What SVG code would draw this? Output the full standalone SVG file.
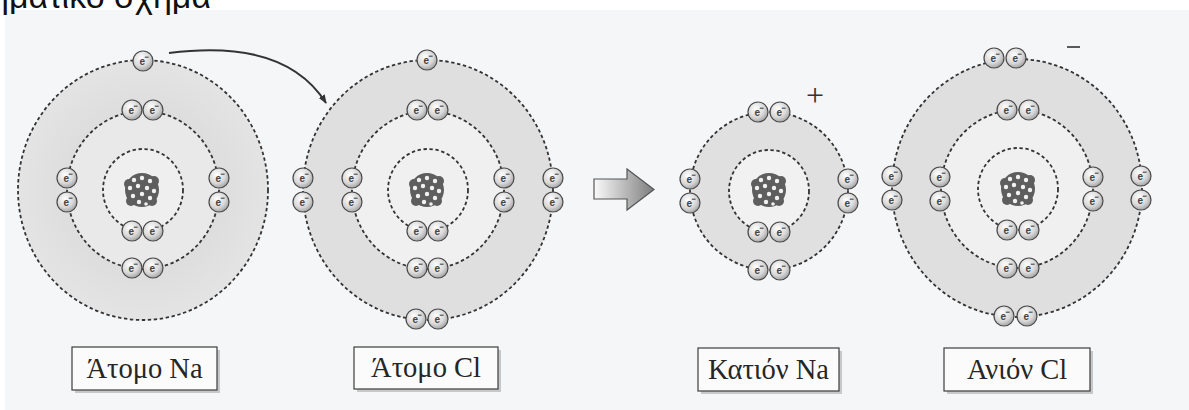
<svg xmlns="http://www.w3.org/2000/svg" width="1189" height="410" viewBox="0 0 1189 410">
  <defs>
    <style>
      .shell { fill: none; stroke: #333333; stroke-width: 1.8; stroke-dasharray: 3.4 2.6; }
      .label-box { fill: #fbfbfb; stroke: #3c3c3c; stroke-width: 1.2; }
      .label-shadow { fill: #9a9a9a; opacity: 0.5; }
      .label { font-family: "Liberation Serif", "DejaVu Serif", serif; font-size: 28.5px; fill: #262626; text-anchor: middle; }
      .charge { font-family: "Liberation Serif", "DejaVu Serif", serif; font-size: 32px; fill: #333; text-anchor: middle; }
      .etext { font-family: "Liberation Sans", "DejaVu Sans", sans-serif; font-size: 10px; fill: #444; font-weight: bold; }
      .title { font-family: "Liberation Sans", "DejaVu Sans", sans-serif; font-size: 34px; fill: #111; }
    </style>
    <radialGradient id="eGrad" cx="0.4" cy="0.35" r="0.7">
      <stop offset="0" stop-color="#ffffff"/>
      <stop offset="0.6" stop-color="#d8d8d8"/>
      <stop offset="1" stop-color="#9c9c9c"/>
    </radialGradient>
    <linearGradient id="blockGrad" x1="0" y1="0" x2="1" y2="0">
      <stop offset="0" stop-color="#fafafa"/>
      <stop offset="1" stop-color="#7d7d7d"/>
    </linearGradient>
    <radialGradient id="bandGrad" cx="0.5" cy="0.5" r="0.5">
      <stop offset="0.6" stop-color="#dddddd"/>
      <stop offset="1" stop-color="#e4e4e4"/>
    </radialGradient>
    <!-- electron: shaded bead with e⁻ -->
    <g id="electron">
      <circle r="10" fill="url(#eGrad)" stroke="#4a4a4a" stroke-width="1.2"/>
      <text class="etext" x="-3.6" y="3.8">e</text>
      <line x1="1.8" y1="-3.8" x2="5.6" y2="-3.8" stroke="#444" stroke-width="1.1"/>
    </g>
    <!-- nucleus: clustered particles -->
    <g id="nucleus">
      <circle r="17" fill="#5e5e5e"/>
      <circle cx="-13" cy="-6" r="5" fill="#5e5e5e"/>
      <circle cx="12" cy="-9" r="5" fill="#5e5e5e"/>
      <circle cx="10" cy="11" r="5" fill="#5e5e5e"/>
      <circle cx="-11" cy="11" r="5" fill="#5e5e5e"/>
      <g fill="#f2f2f2">
        <circle cx="-8" cy="-10" r="2.2"/>
        <circle cx="0" cy="-12" r="2.2"/>
        <circle cx="8" cy="-9" r="2.2"/>
        <circle cx="-12" cy="-2" r="2.2"/>
        <circle cx="-4" cy="-4" r="2.2"/>
        <circle cx="5" cy="-2" r="2.2"/>
        <circle cx="12" cy="1" r="2.2"/>
        <circle cx="-9" cy="6" r="2.2"/>
        <circle cx="0" cy="4" r="2.2"/>
        <circle cx="8" cy="8" r="2.2"/>
        <circle cx="-3" cy="12" r="2.2"/>
        <circle cx="4" cy="14" r="1.8"/>
      </g>
    </g>
    <marker id="arrowHead" markerWidth="10" markerHeight="10" refX="8" refY="5" orient="auto" markerUnits="userSpaceOnUse">
      <path d="M0,1.5 L9,5 L0,8.5 Z" fill="#333"/>
    </marker>
  </defs>

  <!-- page -->
  <rect x="0" y="0" width="1189" height="410" fill="#ffffff"/>
  <rect x="5" y="10" width="1184" height="400" fill="#f5f6f8"/>
  <text class="title" x="-10" y="8">ηματικό σχήμα</text>

  <!-- Na atom -->
  <g id="atom-na">
    <ellipse cx="143" cy="190" rx="125" ry="130" fill="url(#bandGrad)"/>
    <ellipse cx="143" cy="190" rx="76" ry="79" fill="#e9e9e9"/>
    <ellipse cx="143" cy="190" rx="40" ry="41" fill="#efefef"/>
    <ellipse class="shell" cx="143" cy="190" rx="125" ry="130"/>
    <ellipse class="shell" cx="143" cy="190" rx="76" ry="79"/>
    <ellipse class="shell" cx="143" cy="190" rx="40" ry="41"/>
    <use href="#nucleus" x="142" y="190"/>
    <use href="#electron" x="132" y="231"/><use href="#electron" x="153" y="231"/>
    <use href="#electron" x="132" y="110"/><use href="#electron" x="153" y="110"/>
    <use href="#electron" x="132" y="268"/><use href="#electron" x="153" y="268"/>
    <use href="#electron" x="67" y="178"/><use href="#electron" x="67" y="202"/>
    <use href="#electron" x="219" y="178"/><use href="#electron" x="219" y="202"/>
    <use href="#electron" x="143" y="61"/>
    <rect class="label-shadow" x="75" y="350" width="145" height="43"/>
    <rect class="label-box" x="72" y="347" width="145" height="43"/>
    <text class="label" x="144.5" y="378">Άτομο Na</text>
  </g>

  <!-- Cl atom -->
  <g id="atom-cl">
    <ellipse cx="428" cy="190" rx="125" ry="130" fill="#dfdfdf"/>
    <ellipse cx="428" cy="190" rx="76" ry="79" fill="#f0f0f0"/>
    <ellipse class="shell" cx="428" cy="190" rx="125" ry="130"/>
    <ellipse class="shell" cx="428" cy="190" rx="76" ry="79"/>
    <ellipse class="shell" cx="428" cy="190" rx="40" ry="41"/>
    <use href="#nucleus" x="427" y="190"/>
    <use href="#electron" x="417" y="231"/><use href="#electron" x="438" y="231"/>
    <use href="#electron" x="417" y="110"/><use href="#electron" x="438" y="110"/>
    <use href="#electron" x="417" y="268"/><use href="#electron" x="438" y="268"/>
    <use href="#electron" x="352" y="178"/><use href="#electron" x="352" y="202"/>
    <use href="#electron" x="504" y="178"/><use href="#electron" x="504" y="202"/>
    <use href="#electron" x="427" y="60"/>
    <use href="#electron" x="303" y="178"/><use href="#electron" x="303" y="202"/>
    <use href="#electron" x="553" y="178"/><use href="#electron" x="553" y="202"/>
    <use href="#electron" x="416" y="319"/><use href="#electron" x="438" y="319"/>
    <rect class="label-shadow" x="357" y="350" width="144" height="42"/>
    <rect class="label-box" x="354" y="347" width="144" height="42"/>
    <text class="label" x="426" y="377">Άτομο Cl</text>
  </g>

  <!-- Na cation -->
  <g id="ion-na">
    <ellipse cx="769" cy="191" rx="79" ry="79" fill="#e0e0e0"/>
    <ellipse cx="769" cy="191" rx="40" ry="41" fill="#f1f1f1"/>
    <ellipse class="shell" cx="769" cy="191" rx="79" ry="79"/>
    <ellipse class="shell" cx="769" cy="191" rx="40" ry="41"/>
    <use href="#nucleus" x="769" y="190"/>
    <use href="#electron" x="758" y="232"/><use href="#electron" x="780" y="232"/>
    <use href="#electron" x="758" y="112"/><use href="#electron" x="780" y="112"/>
    <use href="#electron" x="758" y="270"/><use href="#electron" x="780" y="270"/>
    <use href="#electron" x="690" y="179"/><use href="#electron" x="690" y="203"/>
    <use href="#electron" x="848" y="179"/><use href="#electron" x="848" y="203"/>
    <text class="charge" x="815" y="106">+</text>
    <rect class="label-shadow" x="701" y="351" width="141" height="43"/>
    <rect class="label-box" x="698" y="348" width="141" height="43"/>
    <text class="label" x="768.5" y="379">Κατιόν Na</text>
  </g>

  <!-- Cl anion -->
  <g id="ion-cl">
    <ellipse cx="1017" cy="188" rx="125" ry="129" fill="#dfdfdf"/>
    <ellipse cx="1017" cy="189" rx="76" ry="79" fill="#f0f0f0"/>
    <ellipse class="shell" cx="1017" cy="188" rx="125" ry="129"/>
    <ellipse class="shell" cx="1017" cy="189" rx="76" ry="79"/>
    <ellipse class="shell" cx="1018" cy="189" rx="40" ry="41"/>
    <use href="#nucleus" x="1018" y="189"/>
    <use href="#electron" x="1007" y="230"/><use href="#electron" x="1029" y="230"/>
    <use href="#electron" x="1007" y="110"/><use href="#electron" x="1029" y="110"/>
    <use href="#electron" x="1007" y="268"/><use href="#electron" x="1029" y="268"/>
    <use href="#electron" x="940" y="177"/><use href="#electron" x="940" y="201"/>
    <use href="#electron" x="1093" y="177"/><use href="#electron" x="1093" y="201"/>
    <use href="#electron" x="994" y="58"/><use href="#electron" x="1016" y="58"/>
    <use href="#electron" x="892" y="176"/><use href="#electron" x="892" y="200"/>
    <use href="#electron" x="1141" y="176"/><use href="#electron" x="1141" y="200"/>
    <use href="#electron" x="1004" y="316"/><use href="#electron" x="1027" y="316"/>
    <line x1="1067" y1="47" x2="1080" y2="47" stroke="#333" stroke-width="1.6"/>
    <rect class="label-shadow" x="947" y="351" width="146" height="43"/>
    <rect class="label-box" x="944" y="348" width="146" height="43"/>
    <text class="label" x="1017" y="379">Ανιόν Cl</text>
  </g>

  <!-- transfer arrows -->
  <g id="connectors">
    <path d="M169,53 Q285,38 326,103" fill="none" stroke="#333" stroke-width="2" marker-end="url(#arrowHead)"/>
    <path d="M594,179 L627,179 L627,169 L654,189.5 L627,210 L627,199 L594,199 Z" fill="url(#blockGrad)" stroke="#555" stroke-width="1.2"/>
  </g>
</svg>
